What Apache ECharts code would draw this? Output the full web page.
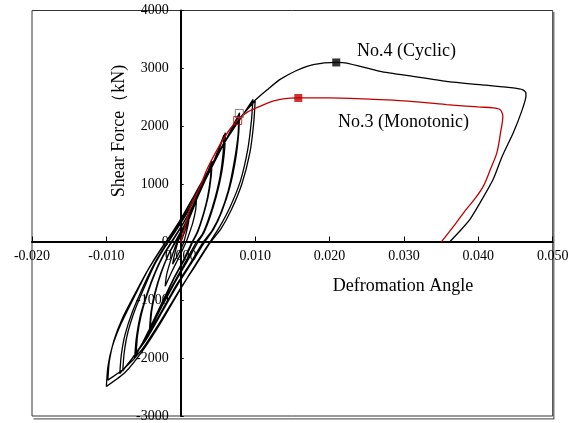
<!DOCTYPE html>
<html>
<head>
<meta charset="utf-8">
<script src="https://cdn.jsdelivr.net/npm/echarts@6/dist/echarts.min.js"></script>
<style>
  html, body { margin: 0; padding: 0; background: #fff; }
  #chart { width: 573px; height: 423px; }
</style>
</head>
<body>
<div id="chart"></div>
<script>
// Axis ticks
const xTicks = [-0.02, -0.01, 0, 0.01, 0.02, 0.03, 0.04, 0.05];
const yTicks = [-3000, -2000, -1000, 0, 1000, 2000, 3000, 4000];
const xStep = 0.01;
const yStep = 1000;

// Specimen No.4, cyclic loading: [deformation angle, shear force (kN)]
const cyclicCurve = [
  [0, 0], [0.0005, 170], [0.0011, 380],
  [0.0009, 250], [0.0004, 0], [-0.0003, -200], [-0.0011, -380],
  [-0.0009, -250], [-0.0004, 0], [0.0003, 200], [0.0010, 370], [0.0015, 520], [0.0021, 720],
  [0.0020, 560], [0.0016, 330], [0.0010, 100], [0.0007, 0], [-0.0002, -250], [-0.0011, -480], [-0.0021, -760],
  [-0.0019, -560], [-0.0014, -330], [-0.0008, -100], [-0.0005, 0], [0.0004, 250], [0.0013, 520], [0.0020, 710],
  [0.0026, 880], [0.0033, 1100], [0.0042, 1400],
  [0.0041, 1150], [0.0037, 800], [0.0030, 450], [0.0023, 180], [0.0016, 0], [0.0005, -300], [-0.0010, -650], [-0.0026, -1080], [-0.0042, -1500],
  [-0.0040, -1200], [-0.0035, -880], [-0.0027, -540], [-0.0017, -220], [-0.0008, 0], [0.0005, 300], [0.0018, 650], [0.0030, 1000], [0.0041, 1380],
  [0.0040, 1120], [0.0036, 780], [0.0029, 430], [0.0022, 170], [0.0015, 0], [0.0004, -300], [-0.0011, -660], [-0.0027, -1090], [-0.0041, -1470],
  [-0.0039, -1180], [-0.0034, -860], [-0.0026, -520], [-0.0016, -200], [-0.0007, 0], [0.0006, 320], [0.0020, 700], [0.0034, 1100], [0.0048, 1500], [0.0060, 1890],
  [0.0059, 1600], [0.0055, 1200], [0.0048, 800], [0.0039, 420], [0.0031, 160], [0.0023, 0], [0.0010, -300], [-0.0008, -700], [-0.0025, -1100], [-0.0043, -1550], [-0.0060, -1920],
  [-0.0058, -1600], [-0.0053, -1250], [-0.0045, -900], [-0.0034, -520], [-0.0022, -200], [-0.0012, 0], [0.0000, 250], [0.0015, 600], [0.0030, 1000], [0.0045, 1420], [0.0058, 1850],
  [0.0057, 1550], [0.0053, 1150], [0.0046, 760], [0.0037, 390], [0.0029, 140], [0.0021, 0], [0.0008, -300], [-0.0010, -720], [-0.0028, -1150], [-0.0046, -1600], [-0.0062, -2000],
  [-0.0060, -1680], [-0.0055, -1300], [-0.0047, -950], [-0.0036, -560], [-0.0024, -230], [-0.0013, 0], [0.0000, 260], [0.0016, 620], [0.0032, 1050], [0.0050, 1500], [0.0066, 1900], [0.0079, 2234],
  [0.0078, 1900], [0.0074, 1450], [0.0066, 950], [0.0055, 520], [0.0044, 220], [0.0032, 0], [0.0015, -350], [-0.0005, -750], [-0.0025, -1200], [-0.0045, -1650], [-0.0065, -2000], [-0.0082, -2270],
  [-0.0080, -1950], [-0.0075, -1600], [-0.0065, -1200], [-0.0050, -750], [-0.0036, -380], [-0.0022, -80], [-0.0010, 150], [0.0005, 450], [0.0022, 850], [0.0040, 1300], [0.0058, 1700], [0.0078, 2180],
  [0.0077, 1850], [0.0072, 1400], [0.0064, 900], [0.0053, 480], [0.0042, 200], [0.0030, 0], [0.0013, -360], [-0.0007, -760], [-0.0027, -1220], [-0.0047, -1660], [-0.0064, -1980], [-0.0078, -2220],
  [-0.0076, -1900], [-0.0071, -1550], [-0.0061, -1150], [-0.0047, -720], [-0.0034, -360], [-0.0020, -60], [-0.0008, 170], [0.0007, 470], [0.0024, 880], [0.0042, 1330], [0.0060, 1740], [0.0080, 2130], [0.0097, 2460],
  [0.0095, 2100], [0.0090, 1600], [0.0080, 1050], [0.0066, 600], [0.0052, 260], [0.0039, 0], [0.0020, -380], [0.0000, -800], [-0.0025, -1350], [-0.0050, -1850], [-0.0075, -2250], [-0.0100, -2490],
  [-0.0098, -2150], [-0.0092, -1800], [-0.0080, -1400], [-0.0062, -930], [-0.0045, -500], [-0.0028, -150], [-0.0015, 100], [0.0000, 400], [0.0020, 850], [0.0040, 1300], [0.0060, 1750], [0.0080, 2150], [0.0100, 2440],
  [0.0098, 2050], [0.0093, 1550], [0.0082, 1000], [0.0068, 560], [0.0054, 230], [0.0040, 0], [0.0020, -400], [-0.0002, -830], [-0.0028, -1380], [-0.0052, -1850], [-0.0076, -2180], [-0.0098, -2380],
  [-0.0096, -2050], [-0.0090, -1700], [-0.0078, -1300], [-0.0060, -850], [-0.0043, -450], [-0.0026, -100], [-0.0012, 150], [0.0003, 450], [0.0022, 900], [0.0042, 1350], [0.0062, 1800], [0.0082, 2180],
  [0.0100, 2450], [0.0118, 2650], [0.0133, 2806], [0.0155, 2960], [0.0178, 3064], [0.0209, 3103], [0.0223, 3093],
  [0.0268, 2949], [0.0312, 2862], [0.0357, 2777], [0.0410, 2710], [0.0447, 2663], [0.0460, 2630], [0.0464, 2580], [0.0464, 2519],
  [0.0458, 2250], [0.0447, 1890], [0.0432, 1480], [0.0420, 1088], [0.0405, 740], [0.0389, 400], [0.0375, 190], [0.0361, 0]
];

// Specimen No.3, monotonic loading
const monotonicCurve = [
  [0, 0], [0.0006, 280], [0.0012, 572], [0.0020, 800], [0.0026, 960], [0.0035, 1250], [0.0046, 1530],
  [0.0057, 1775], [0.0066, 1950], [0.0076, 2107], [0.0090, 2250], [0.0107, 2350], [0.0125, 2440],
  [0.0140, 2480], [0.0158, 2490], [0.0200, 2490], [0.0268, 2462], [0.0300, 2440], [0.0357, 2376],
  [0.0400, 2335], [0.0420, 2320], [0.0428, 2300], [0.0431, 2261], [0.0433, 2175], [0.0430, 1900],
  [0.0425, 1546], [0.0416, 1250], [0.0407, 973], [0.0396, 760], [0.0384, 572], [0.0370, 330], [0.0350, 0]
];

// Peak strength points and yield points
const cyclicPeak = [[0.0209, 3103]];
const monotonicPeak = [[0.0158, 2490]];
const cyclicYield = [[0.00787, 2222]];
const monotonicYield = [[0.00765, 2101]];

const serif = '"Liberation Serif", "Times New Roman", serif';
const red = '#c00000';

// Plot frame
const gridBox = { left: 32, top: 10.5, width: 520.7, height: 407.2 };
const xMin = xTicks[0], xMax = xTicks[xTicks.length - 1];
const yMin = yTicks[0], yMax = yTicks[yTicks.length - 1];
// Axes run through the origin: shift them in from the frame edges (labels move with them)
const xAxisShift = gridBox.height * (0 - yMin) / (yMax - yMin);
const yAxisShift = gridBox.width * (0 - xMin) / (xMax - xMin);
const frameRight = gridBox.left + gridBox.width;
const frameBottom = gridBox.top + gridBox.height;

const chart = echarts.init(document.getElementById('chart'), null, { renderer: 'canvas' });

chart.setOption({
  animation: false,
  backgroundColor: '#fff',
  grid: Object.assign({
    show: true, borderColor: '#333', borderWidth: 1, backgroundColor: 'transparent'
  }, gridBox),
  xAxis: {
    type: 'value', position: 'bottom', offset: -xAxisShift,
    min: xMin, max: xMax, interval: xStep,
    axisLine: { onZero: false, lineStyle: { color: '#000', width: 2 } },
    axisTick: { inside: true, length: 5, lineStyle: { color: '#000', width: 1 } },
    axisLabel: {
      color: '#000', fontFamily: serif, fontSize: 14, margin: 8,
      formatter: v => v.toFixed(3)
    },
    splitLine: { show: false }
  },
  yAxis: {
    type: 'value', position: 'left', offset: -yAxisShift,
    min: yMin, max: yMax, interval: yStep,
    axisLine: { onZero: false, lineStyle: { color: '#000', width: 2 } },
    axisTick: { inside: true, length: 3, lineStyle: { color: '#000', width: 1 } },
    axisLabel: {
      color: '#000', fontFamily: serif, fontSize: 14, margin: 12,
      formatter: v => String(Math.round(v))
    },
    splitLine: { show: false }
  },
  graphic: [
    {
      // drop shadow along the right and bottom frame edges
      type: 'polyline', silent: true, z: 0,
      shape: { points: [[frameRight + 1.1, gridBox.top + 1.5], [frameRight + 1.1, frameBottom + 1.1], [gridBox.left + 1.5, frameBottom + 1.1]] },
      style: { stroke: '#666', lineWidth: 1.3, fill: null }
    },
    {
      type: 'text', x: 403, y: 286,
      style: { text: 'Defromation Angle', font: '18px ' + serif, fill: '#000', align: 'center', verticalAlign: 'middle' }
    },
    {
      type: 'text', x: 119, y: 131, rotation: Math.PI / 2,
      style: { text: 'Shear Force（kN)', font: '18px ' + serif, fill: '#000', align: 'center', verticalAlign: 'middle' }
    },
    {
      type: 'text', x: 357, y: 51,
      style: { text: 'No.4 (Cyclic)', font: '18px ' + serif, fill: '#000', align: 'left', verticalAlign: 'middle' }
    },
    {
      type: 'text', x: 338, y: 122,
      style: { text: 'No.3 (Monotonic)', font: '18px ' + serif, fill: '#000', align: 'left', verticalAlign: 'middle' }
    }
  ],
  series: [
    {
      name: 'No.4 (Cyclic)', type: 'line', data: cyclicCurve,
      showSymbol: false, smooth: 0.2, z: 2,
      lineStyle: { color: '#000', width: 1.3 }
    },
    {
      name: 'No.3 (Monotonic)', type: 'line', data: monotonicCurve,
      showSymbol: false, smooth: 0.3, z: 3,
      lineStyle: { color: red, width: 1.3 }
    },
    {
      type: 'scatter', data: cyclicPeak, symbol: 'rect', symbolSize: 8, z: 5,
      itemStyle: { color: '#000' }
    },
    {
      type: 'scatter', data: monotonicPeak, symbol: 'rect', symbolSize: 8, z: 5,
      itemStyle: { color: red }
    },
    {
      type: 'scatter', data: cyclicYield, symbol: 'rect', symbolSize: 8, z: 5,
      itemStyle: { color: 'rgba(255,255,255,0)', borderColor: '#666', borderWidth: 1 }
    },
    {
      type: 'scatter', data: monotonicYield, symbol: 'rect', symbolSize: 8, z: 5,
      itemStyle: { color: 'rgba(255,255,255,0)', borderColor: red, borderWidth: 1 }
    }
  ]
});
</script>
</body>
</html>
